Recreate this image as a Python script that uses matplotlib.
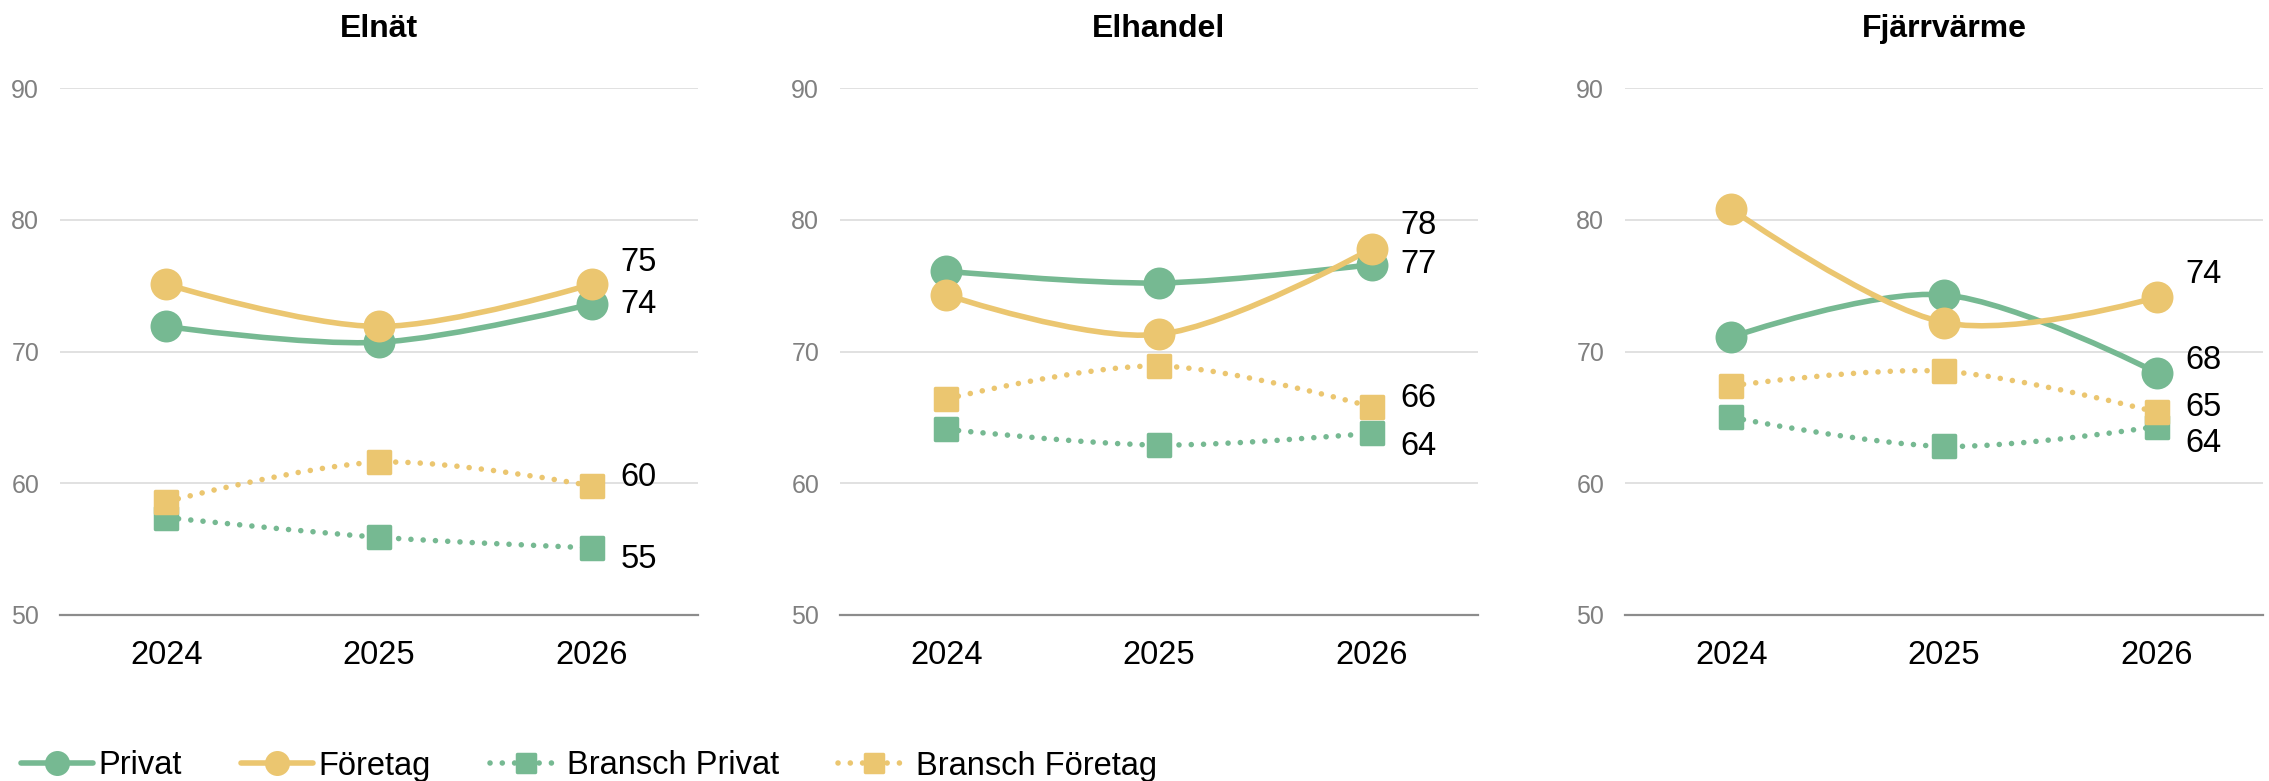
import matplotlib
matplotlib.use("Agg")
import matplotlib.pyplot as plt
from matplotlib.path import Path
from matplotlib.patches import PathPatch
from matplotlib.markers import MarkerStyle
from matplotlib.lines import Line2D

plt.rcParams['font.family'] = ['Liberation Sans', 'DejaVu Sans']

# ---------------- data ----------------
years = ["2024", "2025", "2026"]
panels = ["Elnät", "Elhandel", "Fjärrvärme"]
series_names = ["Privat", "Företag", "Bransch Privat", "Bransch Företag"]

elnat_privat = [71.9, 70.7, 73.6]
elnat_foretag = [75.1, 71.9, 75.1]
elnat_bransch_privat = [57.4, 55.9, 55.1]
elnat_bransch_foretag = [58.6, 61.6, 59.8]

elhandel_privat = [76.1, 75.2, 76.6]
elhandel_foretag = [74.3, 71.3, 77.8]
elhandel_bransch_privat = [64.1, 62.9, 63.8]
elhandel_bransch_foretag = [66.4, 68.9, 65.8]

fjarr_privat = [71.1, 74.3, 68.4]
fjarr_foretag = [80.8, 72.2, 74.1]
fjarr_bransch_privat = [65.0, 62.8, 64.3]
fjarr_bransch_foretag = [67.4, 68.5, 65.4]

panel_data = [
    [elnat_privat, elnat_foretag, elnat_bransch_privat, elnat_bransch_foretag],
    [elhandel_privat, elhandel_foretag, elhandel_bransch_privat, elhandel_bransch_foretag],
    [fjarr_privat, fjarr_foretag, fjarr_bransch_privat, fjarr_bransch_foretag],
]

y_ticks = [50, 60, 70, 80, 90]

# ---------------- style ----------------
GREEN = "#76B992"
YELLOW = "#EBC670"
colors = [GREEN, YELLOW, GREEN, YELLOW]
dotted = [False, False, True, True]
DOT = (0, (0.01, 2.2))

# vertical offsets (px) of end labels per panel, per series
label_dy_px = [
    [0, 22, -12, 8],
    [0, 23, -13, 8],
    [12, 23, -17, 5],
]

W, H = 2269, 781
fig = plt.figure(figsize=(W / 100, H / 100), dpi=100)

ax_lefts = [60, 840, 1625]
ax_w = 638
ax_top, ax_bot = 88, 615


def smooth_path(xs, ys):
    n = len(xs)
    tang = []
    for i in range(n):
        if i == 0 or i == n - 1:
            tang.append((0.0, 0.0))
        else:
            tang.append(((xs[i + 1] - xs[i - 1]) / 2.0, (ys[i + 1] - ys[i - 1]) / 2.0))
    verts = [(xs[0], ys[0])]
    codes = [Path.MOVETO]
    for i in range(n - 1):
        c1 = (xs[i] + tang[i][0] / 3.0, ys[i] + tang[i][1] / 3.0)
        c2 = (xs[i + 1] - tang[i + 1][0] / 3.0, ys[i + 1] - tang[i + 1][1] / 3.0)
        verts += [c1, c2, (xs[i + 1], ys[i + 1])]
        codes += [Path.CURVE4] * 3
    return Path(verts, codes)


sq_marker = MarkerStyle('s', joinstyle='round')

for p, title in enumerate(panels):
    ax = fig.add_axes([ax_lefts[p] / W, 1 - ax_bot / H, ax_w / W, (ax_bot - ax_top) / H])
    xs = [i + 0.5 for i in range(len(years))]
    ax.set_xlim(0, len(years))
    ax.set_ylim(y_ticks[0], y_ticks[-1])
    for s in ax.spines.values():
        s.set_visible(False)
    for t in y_ticks[1:]:
        ax.axhline(t, color="#dcdcdc", lw=1.2, zorder=0)
    ax.axhline(y_ticks[0], color="#8c8c8c", lw=1.6, zorder=0, clip_on=False)
    ax.set_yticks(y_ticks)
    ax.set_yticklabels([str(t) for t in y_ticks], fontsize=18, color="#808080")
    ax.set_xticks(xs)
    ax.set_xticklabels(years, fontsize=23.5, color="black")
    ax.tick_params(axis='y', length=0, pad=15)
    ax.tick_params(axis='x', length=0, pad=18)
    ax.set_title(title, fontsize=23, fontweight='bold', pad=37)

    # lines first
    for k, vals in enumerate(panel_data[p]):
        path = smooth_path(xs, vals)
        if dotted[k]:
            patch = PathPatch(path, fill=False, edgecolor=colors[k], lw=4.0,
                              linestyle=DOT, capstyle='round', zorder=2 + k * 0.1)
        else:
            patch = PathPatch(path, fill=False, edgecolor=colors[k], lw=4.0,
                              capstyle='round', joinstyle='round', zorder=2 + k * 0.1)
        ax.add_patch(patch)
    # markers
    for k, vals in enumerate(panel_data[p]):
        if dotted[k]:
            ax.plot(xs, vals, linestyle='none', marker=sq_marker, ms=15.5, mew=2.5,
                    color=colors[k], mec=colors[k], zorder=4 + k * 0.1, clip_on=False)
        else:
            ax.plot(xs, vals, linestyle='none', marker='o', ms=23, mew=0,
                    color=colors[k], zorder=4 + k * 0.1, clip_on=False)
        last = vals[-1]
        ax.annotate(str(int(last + 0.5)), xy=(xs[-1], last),
                    xytext=(21, label_dy_px[p][k] * 0.72), textcoords='offset points',
                    fontsize=23.5, color='black', va='center', ha='left', zorder=6)

# legend
handles = []
for k, name in enumerate(series_names):
    if dotted[k]:
        h = Line2D([], [], color=colors[k], lw=4.0, linestyle=DOT, dash_capstyle='round',
                   marker=sq_marker, ms=13, mew=2.5, mec=colors[k])
    else:
        h = Line2D([], [], color=colors[k], lw=4.0, solid_capstyle='round',
                   marker='o', ms=18, mew=0)
    handles.append(h)

fig.legend(handles, series_names, loc='center left', bbox_to_anchor=(21 / W, 1 - 766 / H),
           ncol=4, frameon=False, fontsize=23.5, handlelength=2.2, handletextpad=0.18,
           columnspacing=1.8, borderpad=0, borderaxespad=0)

fig.savefig("out.png", dpi=100)
